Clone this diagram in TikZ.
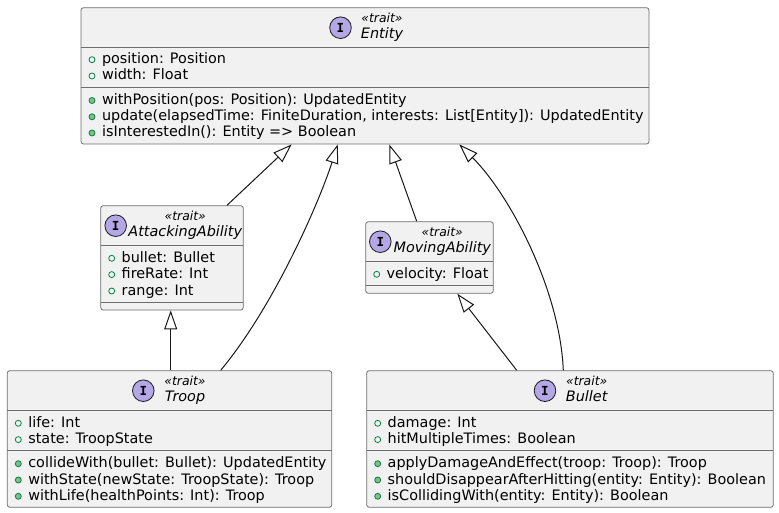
\documentclass[tikz,border=0pt]{standalone}
\usepackage{fontspec}
\setmainfont{DejaVu Sans}
\newfontfamily\iconfont{DejaVu Sans Mono}
\usetikzlibrary{arrows.meta,fit}
\definecolor{boxfill}{HTML}{F1F1F1}
\definecolor{boxline}{HTML}{6E6E6E}
\definecolor{lineclr}{HTML}{181818}
\definecolor{iconfill}{HTML}{B4A7E5}
\definecolor{markline}{HTML}{038048}
\definecolor{markfill}{HTML}{84BE84}
\tikzset{
 classbox/.style={draw=boxline, fill=boxfill, line width=0.8pt, rounded corners=2.5pt, inner sep=0pt},
 divline/.style={draw=boxline, line width=0.8pt},
 icon/.style={circle, draw=lineclr, fill=iconfill, line width=0.8pt, minimum size=21.6pt, inner sep=0pt, font=\iconfont\bfseries\fontsize{12.5}{12.5}\selectfont},
 stereo/.style={anchor=base, inner sep=0pt, font=\itshape\fontsize{12.4}{12.4}\selectfont},
 cname/.style={anchor=base, inner sep=0pt, font=\itshape\fontsize{14.4}{14.4}\selectfont},
 member/.style={anchor=base west, inner sep=0pt, font=\fontsize{14.4}{14.4}\selectfont},
 attrmark/.style={circle, draw=markline, line width=0.8pt, minimum size=6pt, inner sep=0pt},
 opmark/.style={circle, draw=markline, fill=markfill, line width=0.8pt, minimum size=6pt, inner sep=0pt},
 extends/.style={draw=lineclr, line width=1pt, -{Triangle[open, length=19pt, width=13pt]}},
}
\newcommand\umlattr[4]{\node[attrmark] (#1m) at (#2+11,#3-4) {};\node[member] (#1) at (#2+20.8,#3) {#4};}
\newcommand\umlop[4]{\node[opmark] (#1m) at (#2+11,#3-4) {};\node[member] (#1) at (#2+20.8,#3) {#4};}
\newcommand\umlhead[5]{\node[icon] (#1i) at (#2,#3+20) {I};\node[stereo] (#1s) at (#4,#3+15) {«trait»};\node[cname] (#1n) at (#4,#3+31) {#5};}
\begin{document}
\begin{tikzpicture}[x=1pt,y=-1pt]
\fill[white] (0,0) rectangle (779,513);
\useasboundingbox (0,0) rectangle (779,513);
% Entity
\node[classbox, fit={(81,7.7) (649,144)}] (entity) {};
\draw[divline] (81,47.3) -- (649,47.3);
\draw[divline] (81,87) -- (649,87);
\umlhead{entity}{340.5}{7.7}{382}{Entity}
\umlattr{entityA1}{81}{63.7}{position: Position}
\umlattr{entityA2}{81}{80}{width: Float}
\umlop{entityO1}{81}{104.5}{withPosition(pos: Position): UpdatedEntity}
\umlop{entityO2}{81}{120.8}{update(elapsedTime: FiniteDuration, interests: List[Entity]): UpdatedEntity}
\umlop{entityO3}{81}{137}{isInterestedIn(): Entity => Boolean}
% AttackingAbility
\node[classbox, fit={(100.7,205.7) (243.3,310)}] (attack) {};
\draw[divline] (100.7,245.7) -- (243.3,245.7);
\draw[divline] (100.7,302.3) -- (243.3,302.3);
\umlhead{attack}{115.7}{205.7}{185.3}{AttackingAbility}
\umlattr{attackA1}{100.7}{262.3}{bullet: Bullet}
\umlattr{attackA2}{100.7}{278.6}{fireRate: Int}
\umlattr{attackA3}{100.7}{295}{range: Int}
% MovingAbility
\node[classbox, fit={(365.7,221.7) (493.3,293.3)}] (moving) {};
\draw[divline] (365.7,261.7) -- (493.3,261.7);
\draw[divline] (365.7,285.7) -- (493.3,285.7);
\umlhead{moving}{380.3}{221.7}{442.3}{MovingAbility}
\umlattr{movingA1}{365.7}{278.3}{velocity: Float}
% Troop
\node[classbox, fit={(7.3,370.7) (331.7,507.3)}] (troop) {};
\draw[divline] (7.3,410.7) -- (331.7,410.7);
\draw[divline] (7.3,450.7) -- (331.7,450.7);
\umlhead{troop}{143.3}{370.7}{185}{Troop}
\umlattr{troopA1}{7.3}{427.3}{life: Int}
\umlattr{troopA2}{7.3}{443.6}{state: TroopState}
\umlop{troopO1}{7.3}{467.7}{collideWith(bullet: Bullet): UpdatedEntity}
\umlop{troopO2}{7.3}{484}{withState(newState: TroopState): Troop}
\umlop{troopO3}{7.3}{500.3}{withLife(healthPoints: Int): Troop}
% Bullet
\node[classbox, fit={(366.7,370.7) (773.3,507.3)}] (bullet) {};
\draw[divline] (366.7,410.7) -- (773.3,410.7);
\draw[divline] (366.7,450.7) -- (773.3,450.7);
\umlhead{bullet}{545}{370.7}{586.7}{Bullet}
\umlattr{bulletA1}{366.7}{427.3}{damage: Int}
\umlattr{bulletA2}{366.7}{443.6}{hitMultipleTimes: Boolean}
\umlop{bulletO1}{366.7}{467.7}{applyDamageAndEffect(troop: Troop): Troop}
\umlop{bulletO2}{366.7}{484}{shouldDisappearAfterHitting(entity: Entity): Boolean}
\umlop{bulletO3}{366.7}{500.3}{isCollidingWith(entity: Entity): Boolean}
% connectors
\draw[extends] ([xshift=55pt]attack.north) -- ([xshift=-73.3pt]entity.south);
\draw[extends] ([xshift=51.2pt]troop.north) .. controls (275,305) and (320,200) .. ([xshift=-27.3pt]entity.south);
\draw[extends] ([xshift=-12.8pt]moving.north) -- ([xshift=24.3pt]entity.south);
\draw[extends] ([xshift=-6.7pt]bullet.north) .. controls (560,290) and (510,195) .. ([xshift=94.3pt]entity.south);
\draw[extends] ([xshift=1.2pt]troop.north) -- ([xshift=-1.3pt]attack.south);
\draw[extends] ([xshift=-53.3pt]bullet.north) -- ([xshift=27.8pt]moving.south);
\end{tikzpicture}
\end{document}
